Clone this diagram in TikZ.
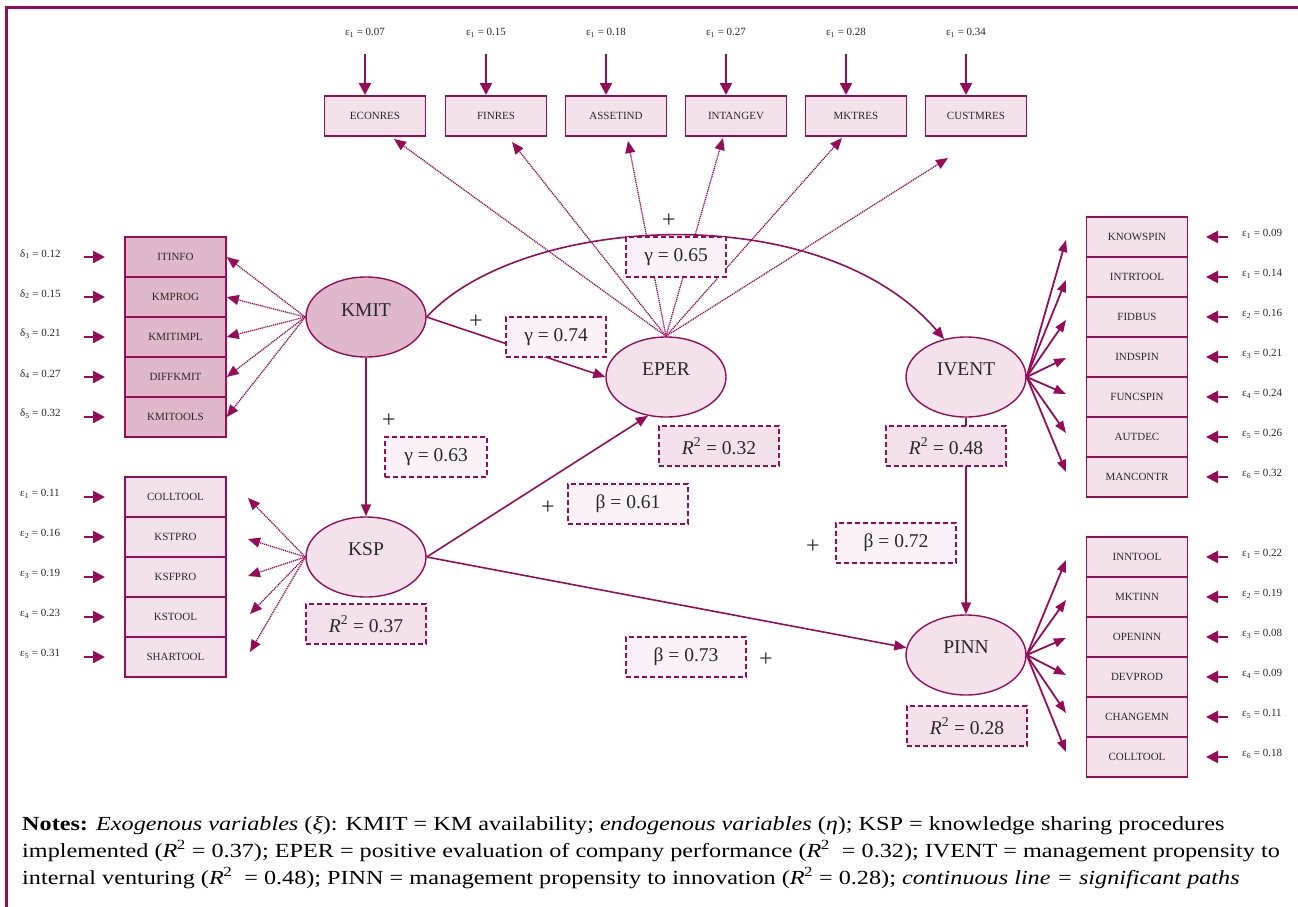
\documentclass[tikz,border=0pt]{standalone}
\usepackage{fontspec}
\setmainfont{Liberation Serif}
\newfontfamily\notesfont{Liberation Serif}[FakeStretch=1.21]
\usetikzlibrary{arrows.meta,shapes.geometric}
\definecolor{mag}{RGB}{150,12,88}
\definecolor{lightfill}{RGB}{243,226,234}
\definecolor{darkfill}{RGB}{224,184,204}
\definecolor{palefill}{RGB}{250,242,246}
\definecolor{txt}{RGB}{40,40,40}
\tikzset{
 ind/.style={rectangle, draw=mag, line width=1.5pt, fill=lightfill, minimum width=101pt, minimum height=40pt, inner sep=0pt, font=\fontsize{11}{13}\selectfont, text=txt},
 indk/.style={ind, fill=darkfill},
 errlab/.style={font=\fontsize{11}{13}\selectfont, inner sep=0pt, text=txt},
 errarr/.style={draw=mag, line width=2.2pt, -{Triangle[length=12pt,width=12pt]}},
 lv/.style={ellipse, draw=mag, line width=1.4pt, fill=lightfill, minimum width=120pt, minimum height=80pt, inner sep=0pt},
 lvtext/.style={font=\fontsize{19.5}{20}\selectfont, inner sep=0pt, text=txt},
 coef/.style={rectangle, draw=mag, dash pattern=on 5pt off 3pt, line width=1.3pt, fill=palefill, minimum width=100pt, minimum height=40pt, inner sep=0pt, font=\fontsize{19.5}{20}\selectfont, text=txt},
 coefb/.style={coef, minimum width=120pt},
 rsq/.style={coef, fill=lightfill, minimum width=120pt},
 spath/.style={draw=mag, line width=1.6pt, -{Triangle[length=12pt,width=10pt]}},
 meas/.style={draw=mag, line width=1.3pt, dash pattern=on 1.2pt off 0.8pt, -{Triangle[length=12pt,width=10pt]}},
 fan/.style={draw=mag, line width=1.8pt, -{Triangle[length=12pt,width=9pt]}},
 plus/.style={font=\fontsize{24}{24}\selectfont, inner sep=0pt, text=txt},
 notes/.style={anchor=base west, font=\notesfont\fontsize{20}{27}\selectfont, inner sep=0pt, text=black},
}
\begin{document}
\begin{tikzpicture}[x=1pt,y=-1pt]
\useasboundingbox (0,0) rectangle (1298,907);
% frame
\draw[mag, line width=3pt] (6,907) -- (6,8) -- (1298,8);

% ---------- top indicators of EPER
\foreach \nm/\lab/\x/\e in {econres/ECONRES/375/0.07, finres/FINRES/496/0.15, assetind/ASSETIND/616/0.18, intangev/INTANGEV/736/0.27, mktres/MKTRES/856/0.28, custmres/CUSTMRES/976/0.34}{
  \node[ind] (\nm) at (\x,116) {\lab};
  \node[errlab] (\nm-el) at (\x-10,33) {ε\textsubscript{1} = \e};
  \coordinate (\nm-es) at (\x-10,54);
  \coordinate (\nm-ee) at (\x-10,95);
  \draw[errarr] (\nm-es) -- (\nm-ee);
}

% ---------- KMIT indicators
\foreach \nm/\lab/\y/\e/\k in {itinfo/ITINFO/257/0.12/1, kmprog/KMPROG/297/0.15/2, kmitimpl/KMITIMPL/337/0.21/3, diffkmit/DIFFKMIT/377/0.27/4, kmitools/KMITOOLS/417/0.32/5}{
  \node[indk] (\nm) at (175.5,\y) {\lab};
  \node[errlab, anchor=west] (\nm-el) at (20,\y-3) {δ\textsubscript{\k} = \e};
  \coordinate (\nm-es) at (84,\y);
  \coordinate (\nm-ee) at (105,\y);
  \draw[errarr] (\nm-es) -- (\nm-ee);
}

% ---------- KSP indicators
\foreach \nm/\lab/\y/\e/\k in {colltoola/COLLTOOL/497/0.11/1, kstpro/KSTPRO/537/0.16/2, ksfpro/KSFPRO/577/0.19/3, kstool/KSTOOL/617/0.23/4, shartool/SHARTOOL/657/0.31/5}{
  \node[ind] (\nm) at (175.5,\y) {\lab};
  \node[errlab, anchor=west] (\nm-el) at (20,\y-3) {ε\textsubscript{\k} = \e};
  \coordinate (\nm-es) at (84,\y);
  \coordinate (\nm-ee) at (105,\y);
  \draw[errarr] (\nm-es) -- (\nm-ee);
}

% ---------- IVENT indicators
\foreach \nm/\lab/\y/\e/\k in {knowspin/KNOWSPIN/237/0.09/1, intrtool/INTRTOOL/277/0.14/1, fidbus/FIDBUS/317/0.16/2, indspin/INDSPIN/357/0.21/3, funcspin/FUNCSPIN/397/0.24/4, autdec/AUTDEC/437/0.26/5, mancontr/MANCONTR/477/0.32/6}{
  \node[ind] (\nm) at (1137,\y) {\lab};
  \node[errlab, anchor=west] (\nm-el) at (1242,\y-3) {ε\textsubscript{\k} = \e};
  \coordinate (\nm-es) at (1228,\y);
  \coordinate (\nm-ee) at (1206,\y);
  \draw[errarr] (\nm-es) -- (\nm-ee);
}

% ---------- PINN indicators
\foreach \nm/\lab/\y/\e/\k in {inntool/INNTOOL/557/0.22/1, mktinn/MKTINN/597/0.19/2, openinn/OPENINN/637/0.08/3, devprod/DEVPROD/677/0.09/4, changemn/CHANGEMN/717/0.11/5, colltoolb/COLLTOOL/757/0.18/6}{
  \node[ind] (\nm) at (1137,\y) {\lab};
  \node[errlab, anchor=west] (\nm-el) at (1242,\y-3) {ε\textsubscript{\k} = \e};
  \coordinate (\nm-es) at (1228,\y);
  \coordinate (\nm-ee) at (1206,\y);
  \draw[errarr] (\nm-es) -- (\nm-ee);
}

% ---------- latent variables
\node[lv, fill=darkfill] (KMIT) at (366,317) {};
\node[lv] (KSP) at (366,557) {};
\node[lv] (EPER) at (666,377) {};
\node[lv] (IVENT) at (966,377) {};
\node[lv] (PINN) at (966,655) {};
\node[lvtext] (KMITt) at (366,310) {KMIT};
\node[lvtext] (KSPt) at (366,549) {KSP};
\node[lvtext] (EPERt) at (666,369) {EPER};
\node[lvtext] (IVENTt) at (966,369) {IVENT};
\node[lvtext] (PINNt) at (966,647) {PINN};

% ---------- measurement paths
\foreach \nm in {itinfo,kmprog,kmitimpl,diffkmit,kmitools}{
  \draw[meas] (KMIT.west) -- (\nm.east);
}
\coordinate (k1) at (248,498);
\coordinate (k2) at (248,539);
\coordinate (k3) at (248,576);
\coordinate (k4) at (250,614);
\coordinate (k5) at (250,652);
\foreach \c in {k1,k2,k3,k4,k5}{ \draw[meas] (KSP.west) -- (\c); }

\coordinate (t1) at (394,139);
\coordinate (t2) at (512,142);
\coordinate (t3) at (628,141);
\coordinate (t4) at (723,138);
\coordinate (t5) at (842,138);
\coordinate (t6) at (948,158);
\foreach \c in {t1,t2,t3,t4,t5,t6}{ \draw[meas] (EPER.north) -- (\c); }

\foreach \i/\y in {1/240,2/280,3/320,4/358,5/394,6/433,7/472}{
  \coordinate (iv\i) at (1066,\y);
  \draw[fan] (IVENT.east) -- (iv\i);
}
\foreach \i/\y in {1/560,2/600,3/638,4/675,5/713,6/752}{
  \coordinate (pn\i) at (1066,\y);
  \draw[fan] (PINN.east) -- (pn\i);
}

% ---------- structural paths
\draw[spath] (KMIT.east) .. controls (520,215) and (820,195) .. (IVENT.120);
\draw[spath] (KMIT.east) -- (EPER.west);
\draw[spath] (KMIT.south) -- (KSP.north);
\draw[spath] (KSP.east) -- (EPER.245);
\draw[spath] (KSP.east) -- (PINN.173);
\draw[spath] (IVENT.south) -- (PINN.north);

% ---------- coefficient boxes
\node[coef] (g65) at (676,257) {γ = 0.65};
\node[coef] (g74) at (556,337) {γ = 0.74};
\node[coef, minimum width=102pt] (g63) at (436,457) {γ = 0.63};
\node[coefb] (b61) at (628,504) {β = 0.61};
\node[coefb] (b72) at (896,543) {β = 0.72};
\node[coefb] (b73) at (686,657) {β = 0.73};
\node[rsq] (rEPER) at (719,446) {\textit{R}\textsuperscript{2} = 0.32};
\node[rsq] (rKSP) at (366,624) {\textit{R}\textsuperscript{2} = 0.37};
\node[rsq] (rIVENT) at (946,446) {\textit{R}\textsuperscript{2} = 0.48};
\node[rsq] (rPINN) at (967,726) {\textit{R}\textsuperscript{2} = 0.28};

% ---------- plus signs
\node[plus] (p1) at (669,221) {+};
\node[plus] (p2) at (476,322) {+};
\node[plus] (p3) at (389,421) {+};
\node[plus] (p4) at (548,508) {+};
\node[plus] (p5) at (813,547) {+};
\node[plus] (p6) at (766,660) {+};

% ---------- notes
\node[notes] (n1) at (22,830) {\textbf{Notes:} \textit{Exogenous variables} (\textit{ξ}): KMIT = KM availability; \textit{endogenous variables} (\textit{η}); KSP = knowledge sharing procedures};
\node[notes] (n2) at (22,857) {implemented (\textit{R}\kern-0.5pt\textsuperscript{2} = 0.37); EPER = positive evaluation of company performance (\textit{R}\kern-0.5pt\textsuperscript{2}\ \ = 0.32); IVENT = management propensity to};
\node[notes] (n3) at (22,884) {internal venturing (\textit{R}\kern-0.5pt\textsuperscript{2}\ \ = 0.48); PINN = management propensity to innovation (\textit{R}\kern-0.5pt\textsuperscript{2} = 0.28); \textit{continuous line = significant paths}};
\end{tikzpicture}
\end{document}
